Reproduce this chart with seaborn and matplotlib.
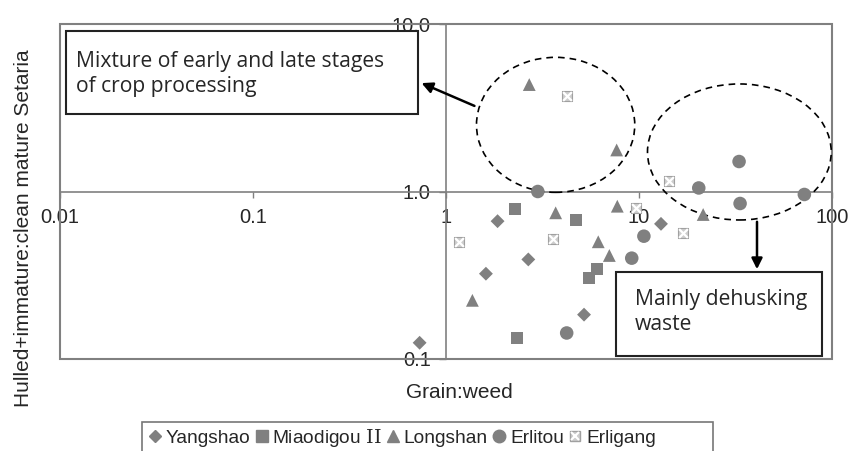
import matplotlib
matplotlib.use("Agg")
import matplotlib.pyplot as plt
import seaborn as sns
import pandas as pd
from matplotlib.patches import Ellipse, Rectangle, FancyArrowPatch
from matplotlib.lines import Line2D
from matplotlib.legend_handler import HandlerTuple

# Data
yangshao_x = [1.85, 1.61, 2.67, 5.19, 13.0, 0.73]
yangshao_y = [0.665, 0.323, 0.393, 0.184, 0.641, 0.125]
miaodigou_x = [2.27, 4.72, 6.04, 5.51, 2.32]
miaodigou_y = [0.79, 0.68, 0.345, 0.305, 0.134]
longshan_x = [2.70, 7.66, 3.70, 7.72, 6.15, 7.02, 1.37, 21.5]
longshan_y = [4.35, 1.77, 0.746, 0.817, 0.501, 0.415, 0.224, 0.729]
erlitou_x = [2.99, 33.0, 20.4, 71.9, 33.4, 10.6, 9.17, 4.22]
erlitou_y = [1.0, 1.51, 1.05, 0.96, 0.848, 0.541, 0.400, 0.143]
erligang_x = [4.25, 14.3, 9.64, 1.17, 3.60, 16.9]
erligang_y = [3.71, 1.16, 0.80, 0.501, 0.517, 0.567]

periods = ["Yangshao", r"Miaodigou $\mathrm{II}$", "Longshan", "Erlitou", "Erligang"]
x_ticks = [0.01, 0.1, 1, 10, 100]
x_labels = ["0.01", "0.1", "1", "10", "100"]
y_ticks = [0.1, 1, 10]
y_labels = ["0.1", "1.0", "10.0"]

sns.set_style("white")
plt.rcParams["font.family"] = ["Liberation Sans", "DejaVu Sans"]
plt.rcParams["mathtext.fontset"] = "custom"
plt.rcParams["mathtext.rm"] = "DejaVu Serif"

W, H = 860, 451
fig = plt.figure(figsize=(8.6, 4.51), dpi=100)


def fx(px):
    return px / W


def fy(py):
    return 1 - py / H


ax = fig.add_axes([fx(60), fy(359), fx(832) - fx(60), fy(24) - fy(359)])

grey = "#808080"
df = pd.concat([
    pd.DataFrame({"x": yangshao_x, "y": yangshao_y, "period": periods[0]}),
    pd.DataFrame({"x": miaodigou_x, "y": miaodigou_y, "period": periods[1]}),
    pd.DataFrame({"x": longshan_x, "y": longshan_y, "period": periods[2]}),
    pd.DataFrame({"x": erlitou_x, "y": erlitou_y, "period": periods[3]}),
])
markers = {periods[0]: "D", periods[1]: "s", periods[2]: "^", periods[3]: "o"}
sizes = {periods[0]: 50, periods[1]: 75, periods[2]: 85, periods[3]: 95}
for p, m in markers.items():
    sub = df[df["period"] == p]
    sns.scatterplot(data=sub, x="x", y="y", marker=m, color=grey, s=sizes[p],
                    edgecolor="none", ax=ax, legend=False, zorder=5)

# Erligang: light square with a white cross
ax.scatter(erligang_x, erligang_y, marker="s", s=60, color="#cdcdcd",
           edgecolor="#a0a0a0", linewidth=0.8, zorder=5)
ax.scatter(erligang_x, erligang_y, marker="x", s=40, color="white",
           linewidth=1.6, zorder=6)

ax.set_xscale("log")
ax.set_yscale("log")
ax.set_xlim(0.01, 100)
ax.set_ylim(0.1, 10)
ax.minorticks_off()
ax.set_xticks(x_ticks, x_labels)
ax.set_yticks(y_ticks, y_labels)
ax.set_xlabel("")
ax.set_ylabel("")

for s in ["top", "right"]:
    ax.spines[s].set_visible(False)
ax.spines["left"].set_position(("data", 1))
ax.spines["bottom"].set_position(("data", 1))
for s in ["left", "bottom"]:
    ax.spines[s].set_color(grey)
    ax.spines[s].set_linewidth(1.2)
ax.add_patch(Rectangle((0, 0), 1, 1, transform=ax.transAxes, fill=False,
                       edgecolor=grey, linewidth=1.5, clip_on=False, zorder=1))
ax.tick_params(axis="x", direction="out", length=4, width=1, color=grey,
               labelsize=14.5, pad=8, bottom=True)
ax.tick_params(axis="y", direction="out", length=5, width=1, color=grey,
               labelsize=14.5, pad=6, left=True)

fig.text(fx(459), fy(392), "Grain:weed", fontsize=15, ha="center", va="center")
fig.text(fx(24), fy(228), "Hulled+immature:clean mature Setaria", fontsize=15,
         rotation=90, ha="center", va="center")

# dashed ellipses
ax.add_patch(Ellipse((0.642, 0.699), 0.205, 0.403, transform=ax.transAxes,
                     fill=False, linestyle=(0, (4, 3)), linewidth=1.2,
                     edgecolor="black", zorder=4))
ax.add_patch(Ellipse((0.880, 0.618), 0.238, 0.406, transform=ax.transAxes,
                     fill=False, linestyle=(0, (4, 3)), linewidth=1.2,
                     edgecolor="black", zorder=4))

# annotation boxes
fig.add_artist(Rectangle((fx(66), fy(114)), fx(418) - fx(66), fy(31) - fy(114),
                         transform=fig.transFigure, facecolor="white",
                         edgecolor="#222222", linewidth=1.5, zorder=7))
fig.text(fx(76), fy(74), "Mixture of early and late stages\nof crop processing",
         family="Open Sans", fontsize=15.2, ha="left", va="center",
         linespacing=1.28, zorder=8)
fig.add_artist(Rectangle((fx(616), fy(356)), fx(822) - fx(616), fy(272) - fy(356),
                         transform=fig.transFigure, facecolor="white",
                         edgecolor="#222222", linewidth=1.5, zorder=7))
fig.text(fx(635), fy(312), "Mainly dehusking\nwaste",
         family="Open Sans", fontsize=15.2, ha="left", va="center",
         linespacing=1.28, zorder=8)

fig.add_artist(FancyArrowPatch(
    (fx(477), fy(107)), (fx(419), fy(82)), transform=fig.transFigure,
    arrowstyle="-|>", mutation_scale=16, linewidth=1.8, color="black", zorder=9))
fig.add_artist(FancyArrowPatch(
    (fx(757), fy(219)), (fx(757), fy(272)), transform=fig.transFigure,
    arrowstyle="-|>", mutation_scale=16, linewidth=1.8, color="black", zorder=9))

# legend
handles = [
    Line2D([], [], marker="D", linestyle="none", color=grey, markersize=6),
    Line2D([], [], marker="s", linestyle="none", color=grey, markersize=9),
    Line2D([], [], marker="^", linestyle="none", color=grey, markersize=8),
    Line2D([], [], marker="o", linestyle="none", color=grey, markersize=9),
    (Line2D([], [], marker="s", linestyle="none", color="#cdcdcd",
            markeredgecolor="#a0a0a0", markersize=7),
     Line2D([], [], marker="x", linestyle="none", color="white",
            markeredgewidth=1.5, markersize=6)),
]
fig.legend(handles, periods, ncol=5, loc="center left",
           bbox_to_anchor=(fx(150), fy(438)), frameon=False, fontsize=13.8,
           handlelength=0.5, handletextpad=0.3, columnspacing=0.35,
           borderpad=0, borderaxespad=0,
           handler_map={tuple: HandlerTuple(ndivide=1, pad=0)})
fig.add_artist(Rectangle((fx(142), fy(470)), fx(713) - fx(142), fy(422) - fy(470),
                         transform=fig.transFigure, fill=False,
                         edgecolor="#777777", linewidth=1.2))

fig.savefig("out.png", dpi=100)
